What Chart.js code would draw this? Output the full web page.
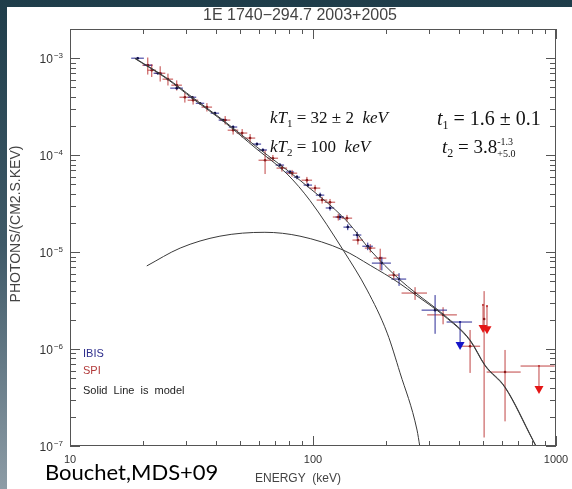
<!DOCTYPE html>
<html>
<head>
<meta charset="utf-8">
<script src="https://cdn.jsdelivr.net/npm/chart.js@4.4.1/dist/chart.umd.min.js"></script>
<style>
  html, body { margin: 0; padding: 0; }
  body { width: 572px; height: 489px; position: relative; overflow: hidden;
         background: linear-gradient(to bottom, #1f3d4a 0%, #3f5a68 50%, #8d9ca6 100%); }
  #panel { position: absolute; left: 7px; top: 7px; width: 565px; height: 482px; background: #fff; }
</style>
</head>
<body>
<div id="panel"><canvas id="spec" width="565" height="482"></canvas></div>
<script>
// energy in keV, flux in photons/(cm2 s keV); dE and dF are half widths in percent
var ibisE = [19, 20.9, 23.0, 27.5, 31.8, 34.3, 39.5, 42.6, 46.9, 58.8, 62.2, 73.1, 80.4, 85.9, 95.3, 107, 117.5, 129, 139, 152, 168, 192, 226, 318]
var ibisF = [1.0e-3, 8.47e-4, 7.0e-4, 4.91e-4, 3.96e-4, 3.43e-4, 2.71e-4, 2.3e-4, 1.95e-4, 1.30e-4, 1.13e-4, 7.9e-5, 6.7e-5, 5.93e-5, 4.91e-5, 3.87e-5, 2.85e-5, 2.30e-5, 1.81e-5, 1.50e-5, 1.15e-5, 7.7e-6, 5.27e-6, 2.52e-6]
var ibisDE = [6, 4, 4, 6, 4, 4, 4, 4, 4, 4, 4, 4, 4, 3, 4, 4, 4, 4, 4, 4, 5, 9, 7, 12]
var ibisDF = [3, 3, 3, 3, 3, 3, 3, 3, 4, 4, 4, 5, 5, 5, 5, 6, 6, 7, 7, 8, 9, 16, 15, 43]

var spiE = [20.9, 21.7, 23.5, 25.3, 27.5, 29.7, 32.1, 36.6, 43.5, 46.9, 51.1, 55.1, 63.5, 68.4, 74.5, 82.0, 94.4, 102, 109, 117.5, 127, 138, 153, 172, 189, 215, 263, 343, 443, 506, 617]
var spiF = [8.47e-4, 7.52e-4, 7.0e-4, 6.08e-4, 5.27e-4, 3.96e-4, 3.69e-4, 3.13e-4, 2.3e-4, 1.81e-4, 1.69e-4, 1.50e-4, 8.87e-5, 9.3e-5, 7.35e-5, 6.52e-5, 5.52e-5, 4.57e-5, 3.44e-5, 3.27e-5, 2.3e-5, 2.24e-5, 1.33e-5, 1.10e-5, 8.67e-6, 5.79e-6, 3.78e-6, 2.25e-6, 1.07e-6, 2.04e-6, 5.79e-7]
var spiDE = [5, 4, 5, 5, 5, 5, 5, 5, 5, 5, 5, 5, 6, 5, 5, 5, 5, 5, 5, 5, 5, 5, 5, 5, 6, 5, 12, 14, 10, 1, 16]
var spiDF = [20, 15, 18, 14, 12, 12, 10, 10, 10, 10, 10, 10, 28, 8, 8, 8, 8, 8, 8, 8, 8, 8, 10, 10, 25, 10, 15, 20, 47, 94, 69]

// upper limits
var ibisUlE = [403]
var ibisUlF = [1.9e-6]
var ibisUlDE = [12]
var spiUlE = [501, 520, 851]
var spiUlF = [2.85e-6, 2.77e-6, 6.68e-7]
var spiUlDE = [0, 0, 16]

// model curves
var modelE = [18.5, 25.1, 32.1, 42.6, 58.8, 88.4, 139, 172, 226, 265, 346, 443, 511, 617, 804, 827]
var modelF = [1.0e-3, 6.2e-4, 3.9e-4, 2.3e-4, 1.21e-4, 5.5e-5, 2.04e-5, 1.05e-5, 5.27e-6, 3.78e-6, 2.25e-6, 1.24e-6, 6.8e-7, 4.06e-7, 1.15e-7, 1.0e-7]
var comp1E = [18.5, 25.1, 32.1, 42.6, 58.8, 78.2, 97.2, 133, 167, 202, 228, 268, 275]
var comp1F = [9.9e-4, 6.1e-4, 3.8e-4, 2.25e-4, 1.15e-4, 6.4e-5, 3.4e-5, 1.05e-5, 4.06e-6, 1.46e-6, 5.7e-7, 1.46e-7, 1.0e-7]
var comp2E = [20.7, 28.4, 41.4, 63.4, 88.4, 133, 172, 226, 265, 346, 443, 511, 617, 804, 827]
var comp2F = [7.2e-6, 1.10e-5, 1.46e-5, 1.6e-5, 1.46e-5, 1.05e-5, 7.3e-6, 4.8e-6, 3.6e-6, 2.2e-6, 1.22e-6, 6.7e-7, 4.0e-7, 1.14e-7, 1.0e-7]

var xMajor = [10, 100, 1000]
var yMajorExp = [-7, -6, -5, -4, -3]

var blue = '#2a2a96'
var red = '#c04444'

function pts(xs, ys) {
    return xs.map(function (x, i) { return { x: x, y: ys[i] } })
}

function modelSet(xs, ys) {
    return {
        type: 'line', data: pts(xs, ys), borderColor: '#3a3a3a', borderWidth: 1,
        pointRadius: 0, cubicInterpolationMode: 'monotone', fill: false
    }
}

function bars(ctx, sx, sy, E, F, dE, dF, color) {
    ctx.strokeStyle = color
    ctx.lineWidth = 1
    for (var i = 0; i < E.length; i++) {
        var x0 = sx.getPixelForValue(E[i] * (1 - dE[i] / 100))
        var x1 = sx.getPixelForValue(E[i] * (1 + dE[i] / 100))
        var y0 = sy.getPixelForValue(F[i] * (1 + dF[i] / 100))
        var y1 = sy.getPixelForValue(F[i] * (1 - dF[i] / 100))
        var px = sx.getPixelForValue(E[i]), py = sy.getPixelForValue(F[i])
        ctx.beginPath()
        ctx.moveTo(x0, py); ctx.lineTo(x1, py)
        ctx.moveTo(px, y0); ctx.lineTo(px, y1)
        ctx.stroke()
    }
}

function limits(ctx, sx, sy, E, F, dE, lineColor, fillColor) {
    for (var i = 0; i < E.length; i++) {
        var px = sx.getPixelForValue(E[i]), py = sy.getPixelForValue(F[i])
        ctx.strokeStyle = lineColor
        ctx.lineWidth = 1
        ctx.beginPath()
        if (dE[i] > 0) {
            ctx.moveTo(sx.getPixelForValue(E[i] * (1 - dE[i] / 100)), py)
            ctx.lineTo(sx.getPixelForValue(E[i] * (1 + dE[i] / 100)), py)
        }
        ctx.moveTo(px, py); ctx.lineTo(px, py + 22)
        ctx.stroke()
        ctx.fillStyle = lineColor
        ctx.fillRect(px - 1, py - 1, 2, 2)
        ctx.fillStyle = fillColor
        ctx.beginPath()
        ctx.moveTo(px - 4.5, py + 20); ctx.lineTo(px + 4.5, py + 20); ctx.lineTo(px, py + 28)
        ctx.closePath()
        ctx.fill()
    }
}

function runs(ctx, x, y, parts) {
    parts.forEach(function (p) {
        ctx.font = p.f
        if (p.stack) {
            ctx.fillText(p.t, x, y + p.dy)
            ctx.fillText(p.stack, x, y + p.dy2)
            x += Math.max(ctx.measureText(p.t).width, ctx.measureText(p.stack).width)
        } else {
            ctx.fillText(p.t, x, y + (p.dy || 0))
            x += ctx.measureText(p.t).width
        }
    })
}

var decor = {
    id: 'decor',
    beforeDatasetsDraw: function (chart) {
        var ctx = chart.ctx, a = chart.chartArea
        var sx = chart.scales.x, sy = chart.scales.y
        ctx.save()
        ctx.beginPath()
        ctx.rect(a.left, a.top, a.right - a.left, a.bottom - a.top)
        ctx.clip()
        bars(ctx, sx, sy, spiE, spiF, spiDE, spiDF, red)
        bars(ctx, sx, sy, ibisE, ibisF, ibisDE, ibisDF, blue)
        limits(ctx, sx, sy, ibisUlE, ibisUlF, ibisUlDE, blue, '#1616c8')
        limits(ctx, sx, sy, spiUlE, spiUlF, spiUlDE, red, '#e41616')
        ctx.restore()
    },
    afterDraw: function (chart) {
        var ctx = chart.ctx, a = chart.chartArea
        var sx = chart.scales.x, sy = chart.scales.y
        ctx.save()
        ctx.strokeStyle = '#555'
        ctx.lineWidth = 1
        ctx.strokeRect(a.left + 0.5, a.top + 0.5, a.right - a.left - 1, a.bottom - a.top - 1)
        ctx.beginPath()
        // x ticks, bottom and top, pointing inward
        xMajor.forEach(function (d, k) {
            for (var m = 1; m <= 9; m++) {
                var v = d * m
                if (v > 1000 || (k == 2 && m > 1)) continue
                var px = Math.round(sx.getPixelForValue(v)) + 0.5
                var len = m == 1 ? 10 : 5
                ctx.moveTo(px, a.bottom); ctx.lineTo(px, a.bottom - len)
                ctx.moveTo(px, a.top); ctx.lineTo(px, a.top + len)
            }
        })
        // y ticks, left and right
        yMajorExp.forEach(function (e) {
            for (var m = 1; m <= 9; m++) {
                var v = m * Math.pow(10, e)
                if (v >= 2e-3) continue
                var py = Math.round(sy.getPixelForValue(v)) + 0.5
                var len = m == 1 ? 10 : 6
                ctx.moveTo(a.left, py); ctx.lineTo(a.left + len, py)
                ctx.moveTo(a.right, py); ctx.lineTo(a.right - len, py)
            }
        })
        ctx.stroke()

        ctx.fillStyle = '#333'
        ctx.textAlign = 'center'
        ctx.textBaseline = 'alphabetic'
        ctx.font = '11px "Liberation Sans", Arial, sans-serif'
        xMajor.forEach(function (d) {
            ctx.fillText(String(d), sx.getPixelForValue(d), a.bottom + 17)
        })
        ctx.textAlign = 'left'
        yMajorExp.forEach(function (e) {
            var py = sy.getPixelForValue(Math.pow(10, e))
            ctx.font = '8px "Liberation Sans", Arial, sans-serif'
            var sup = '\u2212' + Math.abs(e)
            var ws = ctx.measureText(sup).width
            ctx.fillText(sup, a.left - 7 - ws, py)
            ctx.font = '12px "Liberation Sans", Arial, sans-serif'
            var w = ctx.measureText('10').width
            ctx.fillText('10', a.left - 8 - ws - w, py + 5)
        })

        // titles
        ctx.fillStyle = '#444'
        ctx.textAlign = 'center'
        ctx.font = '16px "Liberation Sans", Arial, sans-serif'
        ctx.fillText('1E 1740\u2212294.7 2003+2005', 293, 13)
        ctx.font = '12px "Liberation Sans", Arial, sans-serif'
        ctx.fillText('ENERGY  (keV)', 291, 475)
        ctx.save()
        ctx.translate(13, 217)
        ctx.rotate(-Math.PI / 2)
        ctx.font = '14px "Liberation Sans", Arial, sans-serif'
        ctx.fillText('PHOTONS/(CM2.S.KEV)', 0, 0)
        ctx.restore()

        // legend text
        ctx.textAlign = 'left'
        ctx.font = '11px "Liberation Sans", Arial, sans-serif'
        ctx.fillStyle = '#2d2d8c'
        ctx.fillText('IBIS', 76, 350)
        ctx.fillStyle = '#b23a3a'
        ctx.fillText('SPI', 76, 367)
        ctx.fillStyle = '#222'
        ctx.fillText('Solid  Line  is  model', 76, 387)

        // fit annotations
        ctx.fillStyle = '#111'
        var serif = '"Liberation Serif", "Times New Roman", serif'
        runs(ctx, 263, 116, [
            { t: 'kT', f: 'italic 17px ' + serif },
            { t: '1', f: '11px ' + serif, dy: 4 },
            { t: ' = 32 \u00b1 2  ', f: '17px ' + serif },
            { t: 'keV', f: 'italic 17px ' + serif }
        ])
        runs(ctx, 263, 145, [
            { t: 'kT', f: 'italic 17px ' + serif },
            { t: '2', f: '11px ' + serif, dy: 4 },
            { t: ' = 100  ', f: '17px ' + serif },
            { t: 'keV', f: 'italic 17px ' + serif }
        ])
        runs(ctx, 430, 118, [
            { t: 't', f: 'italic 20px ' + serif },
            { t: '1', f: '12px ' + serif, dy: 4 },
            { t: ' = 1.6 \u00b1 0.1', f: '20px ' + serif }
        ])
        runs(ctx, 435, 146, [
            { t: 't', f: 'italic 19px ' + serif },
            { t: '2', f: '12px ' + serif, dy: 4 },
            { t: ' = 3.8', f: '19px ' + serif },
            { t: '-1.3', stack: '+5.0', f: '10px ' + serif, dy: -8, dy2: 4 }
        ])

        // credit
        ctx.fillStyle = '#000'
        ctx.font = '22px Lato, "Open Sans", sans-serif'
        ctx.fillText('Bouchet,MDS+09', 38, 473)
        ctx.restore()
    }
}

new Chart(document.getElementById('spec').getContext('2d'), {
    type: 'scatter',
    data: {
        datasets: [
            modelSet(modelE, modelF),
            modelSet(comp1E, comp1F),
            modelSet(comp2E, comp2F),
            { data: pts(spiE, spiF), pointRadius: 1.3, pointBackgroundColor: '#8a1c1c', pointBorderWidth: 0 },
            { data: pts(ibisE, ibisF), pointRadius: 1.3, pointBackgroundColor: '#10104a', pointBorderWidth: 0 }
        ]
    },
    options: {
        responsive: false,
        animation: false,
        layout: { padding: { left: 0, top: 22, right: 16, bottom: 0 } },
        plugins: { legend: { display: false }, tooltip: { enabled: false } },
        scales: {
            x: {
                type: 'logarithmic', min: 10, max: 1000,
                ticks: { display: false }, grid: { display: false }, border: { display: false },
                afterFit: function (s) { s.height = 43 }
            },
            y: {
                type: 'logarithmic', min: 1e-7, max: 2e-3,
                ticks: { display: false }, grid: { display: false }, border: { display: false },
                afterFit: function (s) { s.width = 63 }
            }
        }
    },
    plugins: [decor]
})
</script>
</body>
</html>
